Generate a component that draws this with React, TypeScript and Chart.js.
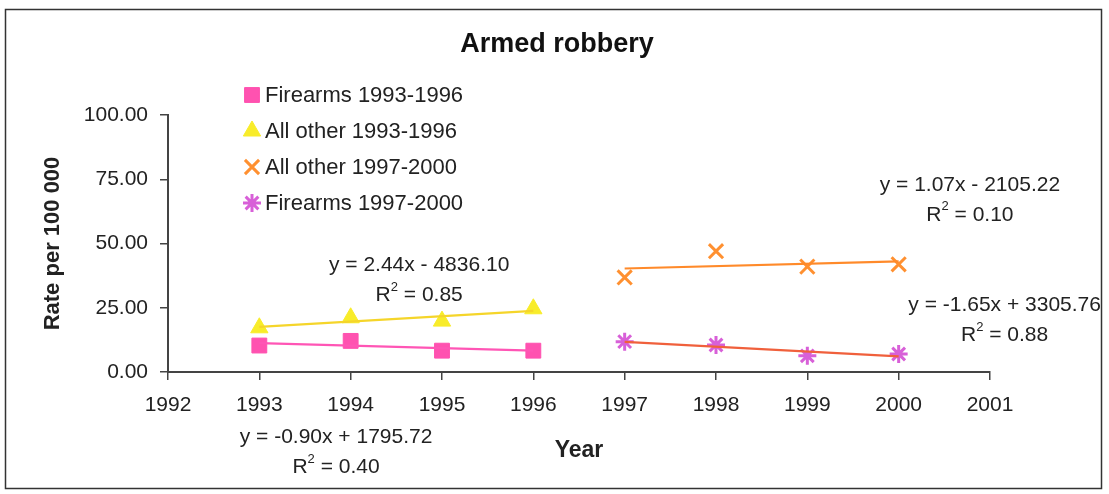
import React, { useEffect, useRef } from "react";
import { Chart, registerables } from "chart.js";
import { drawPoint } from "chart.js/helpers";

Chart.register(...registerables);

const chartTitle = "Armed robbery";
const xTitle = "Year";
const yTitle = "Rate per 100 000";

const yearsA = [1993, 1994, 1995, 1996];
const yearsB = [1997, 1998, 1999, 2000];

const firearms9396 = [10.3, 12.1, 8.3, 8.3];
const allOther9396 = [17.2, 21.1, 19.8, 24.6];
const allOther9700 = [36.8, 47.0, 41.0, 41.9];
const firearms9700 = [11.8, 10.5, 6.3, 7.0];

const seriesNames = ["Firearms 1993-1996", "All other 1993-1996", "All other 1997-2000", "Firearms 1997-2000"];

const xMin = 1992;
const xMax = 2001;
const yMin = 0;
const yMax = 100;
const yStep = 25;

// Trend equations as printed, with their anchor (data coordinates)
const eqLabels = ["y = -0.90x + 1795.72", "y = 2.44x - 4836.10", "y = 1.07x - 2105.22", "y = -1.65x + 3305.76"];
const r2Labels = ["0.40", "0.85", "0.10", "0.88"];
const eqAnchorX = [1993.84, 1994.75, 2000.78, 2001.16];
const eqAnchorY = [-25.5, 41.5, 72.8, 26.1];

const FONT = "'Liberation Sans', Arial, Helvetica, sans-serif";
const TEXT = "#222";

const markerStyles = [
  { pointStyle: "rect", color: "#ff52b0", radius: 10.5, border: 1 },
  { pointStyle: "triangle", color: "#f8ec2a", radius: 10, border: 1 },
  { pointStyle: "crossRot", color: "#ff9030", radius: 10, border: 3 },
  { pointStyle: "star", color: "#d860d8", radius: 9, border: 3 },
];
const trendColors = ["#ff55b5", "#f5d52a", "#ff8a2a", "#f0603c"];

function linreg(xs: number[], ys: number[]) {
  const n = xs.length;
  const mx = xs.reduce((a, b) => a + b, 0) / n;
  const my = ys.reduce((a, b) => a + b, 0) / n;
  let num = 0, den = 0;
  for (let i = 0; i < n; i++) {
    num += (xs[i] - mx) * (ys[i] - my);
    den += (xs[i] - mx) * (xs[i] - mx);
  }
  const m = num / den;
  const b = my - m * mx;
  return [
    { x: xs[0], y: m * xs[0] + b },
    { x: xs[n - 1], y: m * xs[n - 1] + b },
  ];
}

const groups = [
  { xs: yearsA, ys: firearms9396 },
  { xs: yearsA, ys: allOther9396 },
  { xs: yearsB, ys: allOther9700 },
  { xs: yearsB, ys: firearms9700 },
];

const decor = {
  id: "decor",
  afterDraw(chart: any) {
    const ctx = chart.ctx;
    const xs = chart.scales.x;
    const ys = chart.scales.y;
    ctx.save();
    // frame
    ctx.strokeStyle = "#333";
    ctx.lineWidth = 1.5;
    ctx.strokeRect(5.5, 9.5, 1096, 479);
    // title
    ctx.fillStyle = "#111";
    ctx.font = `bold 27px ${FONT}`;
    ctx.textAlign = "center";
    ctx.textBaseline = "middle";
    ctx.fillText(chartTitle, 557, 45);
    // legend
    ctx.font = `22px ${FONT}`;
    ctx.textAlign = "left";
    const rowY = [95, 131, 167, 203];
    for (let i = 0; i < 4; i++) {
      const s = markerStyles[i];
      ctx.fillStyle = s.color;
      ctx.strokeStyle = s.color;
      ctx.lineWidth = s.border;
      drawPoint(ctx, { pointStyle: s.pointStyle as any, radius: s.radius, rotation: 0, borderWidth: s.border }, 252, rowY[i]);
      ctx.fillStyle = TEXT;
      ctx.fillText(seriesNames[i], 265, rowY[i] + 1);
    }
    // equations
    ctx.textAlign = "center";
    ctx.font = `21px ${FONT}`;
    for (let i = 0; i < 4; i++) {
      const px = xs.getPixelForValue(eqAnchorX[i]);
      const py = ys.getPixelForValue(eqAnchorY[i]);
      ctx.fillStyle = TEXT;
      ctx.fillText(eqLabels[i], px, py);
      const r2 = "R";
      const rest = " = " + r2Labels[i];
      const wR = ctx.measureText(r2).width;
      ctx.font = `13px ${FONT}`;
      const wS = ctx.measureText("2").width;
      ctx.font = `21px ${FONT}`;
      const wRest = ctx.measureText(rest).width;
      const total = wR + wS + wRest;
      const x0 = px - total / 2;
      const y2 = py + 30;
      ctx.textAlign = "left";
      ctx.fillText(r2, x0, y2);
      ctx.font = `13px ${FONT}`;
      ctx.fillText("2", x0 + wR, y2 - 8);
      ctx.font = `21px ${FONT}`;
      ctx.fillText(rest, x0 + wR + wS, y2);
      ctx.textAlign = "center";
    }
    ctx.restore();
  },
};

export default function App() {
  const ref = useRef<HTMLCanvasElement>(null);
  useEffect(() => {
    if (!ref.current) return;
    const datasets: any[] = [];
    groups.forEach((g, i) => {
      const s = markerStyles[i];
      datasets.push({
        label: seriesNames[i],
        data: g.xs.map((x, k) => ({ x, y: g.ys[k] })),
        showLine: false,
        pointStyle: s.pointStyle,
        pointRadius: s.radius,
        pointBackgroundColor: s.color,
        pointBorderColor: s.color,
        pointBorderWidth: s.border,
        order: 2,
      });
    });
    groups.forEach((g, i) => {
      datasets.push({
        label: "trend " + i,
        data: linreg(g.xs, g.ys),
        showLine: true,
        borderColor: trendColors[i],
        borderWidth: 2.2,
        pointRadius: 0,
        fill: false,
        order: 1,
      });
    });
    const chart = new Chart(ref.current, {
      type: "scatter",
      data: { datasets },
      options: {
        animation: false,
        responsive: false,
        maintainAspectRatio: false,
        layout: { padding: { left: 0, top: 115, right: 119, bottom: 0 } },
        plugins: { legend: { display: false }, title: { display: false }, tooltip: { enabled: false } },
        scales: {
          x: {
            type: "linear",
            min: xMin,
            max: xMax,
            afterFit: (s: any) => { s.height = 122; },
            ticks: {
              stepSize: 1,
              color: TEXT,
              font: { family: FONT, size: 21 },
              padding: 13,
              callback: (v: any) => String(v),
            },
            grid: { drawOnChartArea: false, drawTicks: true, tickLength: 8, color: "#444", lineWidth: 1.5 },
            border: { display: true, color: "#444", width: 2 },
            title: {
              display: true,
              text: xTitle,
              color: TEXT,
              font: { family: FONT, size: 23, weight: "bold" },
              padding: { top: 0, bottom: 30 },
            },
          },
          y: {
            type: "linear",
            min: yMin,
            max: yMax,
            afterFit: (s: any) => { s.width = 168; },
            ticks: {
              stepSize: yStep,
              color: TEXT,
              font: { family: FONT, size: 21 },
              padding: 12,
              callback: (v: any) => Number(v).toFixed(2),
            },
            grid: { drawOnChartArea: false, drawTicks: true, tickLength: 8, color: "#444", lineWidth: 1.5 },
            border: { display: true, color: "#444", width: 2 },
            title: {
              display: true,
              text: yTitle,
              color: TEXT,
              font: { family: FONT, size: 22, weight: "bold" },
              padding: { top: 40, bottom: 0 },
            },
          },
        },
      },
      plugins: [decor],
    });
    return () => chart.destroy();
  }, []);
  return (
    <div style={{ position: "fixed", left: 0, top: 0, width: 1109, height: 494, background: "#fff" }}>
      <canvas ref={ref} width={1109} height={494} style={{ display: "block", width: 1109, height: 494 }} />
    </div>
  );
}
